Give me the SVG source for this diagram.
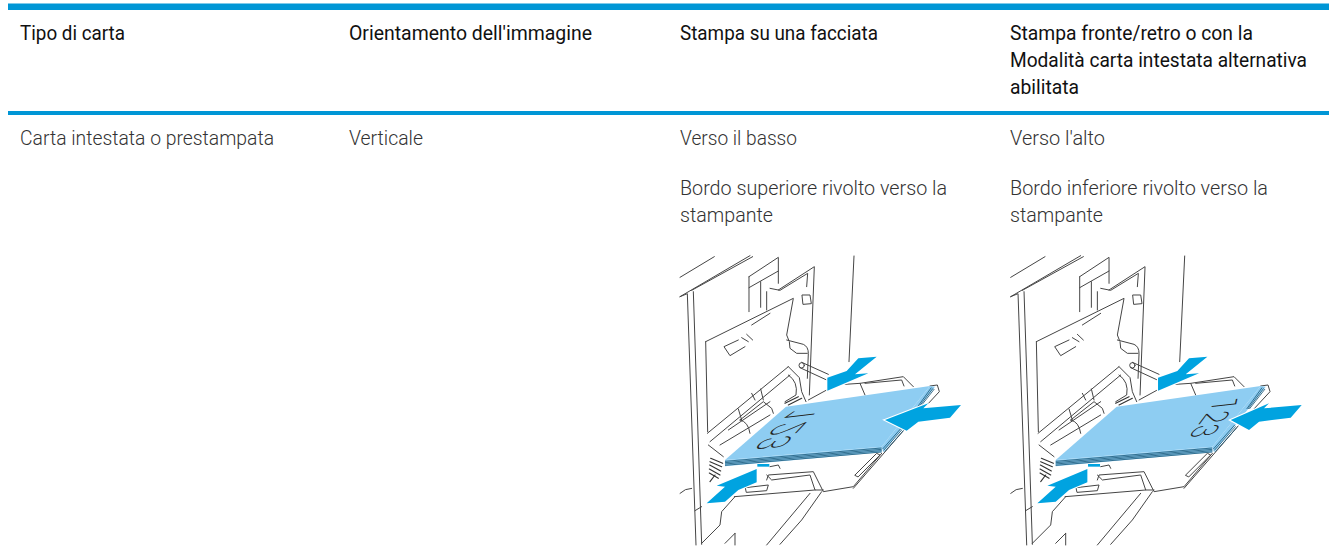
<svg xmlns="http://www.w3.org/2000/svg" width="1329" height="560" viewBox="0 0 1329 560">
<style>
text{font-family:Roboto,"Open Sans","Liberation Sans",sans-serif;font-size:20px}
.h{fill:#111;font-weight:400}
.b{fill:#333;font-weight:300}
.l{fill:none;stroke:#444;stroke-width:3;stroke-linejoin:round;stroke-linecap:round}
.g{fill:none;stroke:#333;stroke-width:3.4;stroke-linecap:round}
.bar{fill:#0096d6}
.ar{fill:#00a3e0;stroke:#fff;stroke-width:7;paint-order:stroke;stroke-linejoin:miter}
.p{fill:#8ecdf2}
.e{fill:none;stroke:#24607f;stroke-width:2.6}
.d{font-size:100px;font-weight:200;fill:#222}
</style>
<defs>
<g id="base">
<path class="l" d="M30 97L133 35M30 155L240 32M65 136L248 35M30 155L52 146L78 900M70 140L95 898"/>
<path class="l" d="M237 95L325 37V115M237 95V200M237 128L325 78M272 110V187M290 140V195M300 130L330 136L413 85L410 125M325 135L433 65L418 450"/>
<path class="l" d="M107 290L370 160L350 270L356 285M107 290L113 560M245 240L300 205"/>
<path class="l" d="M397 150L420 150L424 176L400 178ZM205 285L162 305L180 332L225 305M215 278L235 290M230 268L248 285M552 33L537 350"/>
<path class="l" d="M350 285L400 298Q415 305 415 325L412 400M358 290L360 310L380 325L412 325M395 352L475 388M390 368L470 405"/>
<circle class="l" cx="395" cy="361" r="8"/>
<path class="l" d="M112 565L355 365M120 590L360 390M355 365L388 398L395 440L408 470"/>
<path class="l" d="M205 492L215 525M272 432L280 465M210 525L280 470L305 490L310 505M210 525Q235 530 240 565M175 555L300 470M150 600L300 510M115 600L160 635M245 445L255 465"/>
<path class="l" d="M355 390Q385 410 378 450L345 470"/>
<path class="g" d="M122 640L158 655M120 650L155 665M119 660L152 678M118 672L150 690M118 684L145 700M120 710L135 690M345 475L385 455M355 480L395 460"/>
<path class="l" d="M415 465L470 435M525 418L570 415L700 395L730 425M570 415L585 450M585 415L695 405L702 423M780 423L802 420L808 440L715 540L550 730"/>
<path class="l" d="M635 625L550 725L460 740L430 680L295 690L290 705M555 690L620 625L630 630L565 695ZM290 690L305 705L420 690L435 735L460 735M193 755L435 735M227 728L295 720L290 737L230 742Z"/>
<path class="l" d="M455 740L395 825L330 898M420 745L290 900M195 755L155 800L150 840L95 895M195 865L165 895M195 865V900M30 745Q45 730 65 730M75 797L95 785"/>
<path class="l" d="M300 665L325 660L330 670"/>
<rect x="262" y="657" width="36" height="8" fill="#00a3e0"/>
</g>
<g id="stack">
<path class="p" d="M165 645L635 605L635 622L165 664Z"/>
<path class="p" d="M780 423L795 425L640 622L635 605Z"/>
<path class="p" d="M348 485L780 423L635 605L165 645Z"/>
<path class="e" d="M165 649L635 609M165 653L635 613M165 657L635 617M165 661L635 621"/>
<path class="e" d="M638 612L702 540M641 616L705 544M644 620L708 548M738 492L784 428M742 492L789 430M746 492L793 432"/>
</g>
<g id="arrows">
<path class="ar" d="M620 335L565 340L530 378L472 398V437L595 385L555 388Z"/>
<path class="ar" d="M260 672V712L205 735L165 770L110 775L165 725L140 722Z"/>
</g>
</defs>
<g id="rules">
<rect class="bar" x="8" y="3.5" width="1321" height="6.5"/>
<rect class="bar" x="8" y="111" width="1321" height="4"/>
</g>
<g id="header">
<text class="h" x="20" y="40" textLength="105" lengthAdjust="spacingAndGlyphs">Tipo di carta</text>
<text class="h" x="349" y="40" textLength="243" lengthAdjust="spacingAndGlyphs">Orientamento dell'immagine</text>
<text class="h" x="680" y="40" textLength="198" lengthAdjust="spacingAndGlyphs">Stampa su una facciata</text>
<text class="h" x="1010" y="40" textLength="243" lengthAdjust="spacingAndGlyphs">Stampa fronte/retro o con la</text>
<text class="h" x="1010" y="67" textLength="297" lengthAdjust="spacingAndGlyphs">Modalità carta intestata alternativa</text>
<text class="h" x="1010" y="94" textLength="69" lengthAdjust="spacingAndGlyphs">abilitata</text>
</g>
<g id="row">
<text class="b" x="20" y="145" textLength="254" lengthAdjust="spacingAndGlyphs">Carta intestata o prestampata</text>
<text class="b" x="349" y="145" textLength="74" lengthAdjust="spacingAndGlyphs">Verticale</text>
<text class="b" x="680" y="145" textLength="117" lengthAdjust="spacingAndGlyphs">Verso il basso</text>
<text class="b" x="680" y="195" textLength="267" lengthAdjust="spacingAndGlyphs">Bordo superiore rivolto verso la</text>
<text class="b" x="680" y="222" textLength="93" lengthAdjust="spacingAndGlyphs">stampante</text>
<text class="b" x="1010" y="145" textLength="95" lengthAdjust="spacingAndGlyphs">Verso l'alto</text>
<text class="b" x="1010" y="195" textLength="258" lengthAdjust="spacingAndGlyphs">Bordo inferiore rivolto verso la</text>
<text class="b" x="1010" y="222" textLength="93" lengthAdjust="spacingAndGlyphs">stampante</text>
</g>
<g id="illustration-down" transform="translate(670 245) scale(.33333)">
<use href="#base"/>
<use href="#stack"/>
<text class="d" transform="matrix(-.72 .76 1.25 -.14 455 484)">123</text>
<use href="#arrows"/>
<path class="ar" d="M645 525L775 475L760 490L873 480L840 518L745 530L710 557Z"/>
</g>
<g id="illustration-up" transform="translate(1000.7 245) scale(.33333)">
<use href="#base"/>
<use href="#stack"/>
<text class="d" transform="matrix(-.54 .72 -1.04 .11 650 462)">123</text>
<use href="#arrows"/>
<path class="ar" d="M690 525L805 475L790 490L903 480L870 518L775 530L745 555Z"/>
</g>
</svg>
